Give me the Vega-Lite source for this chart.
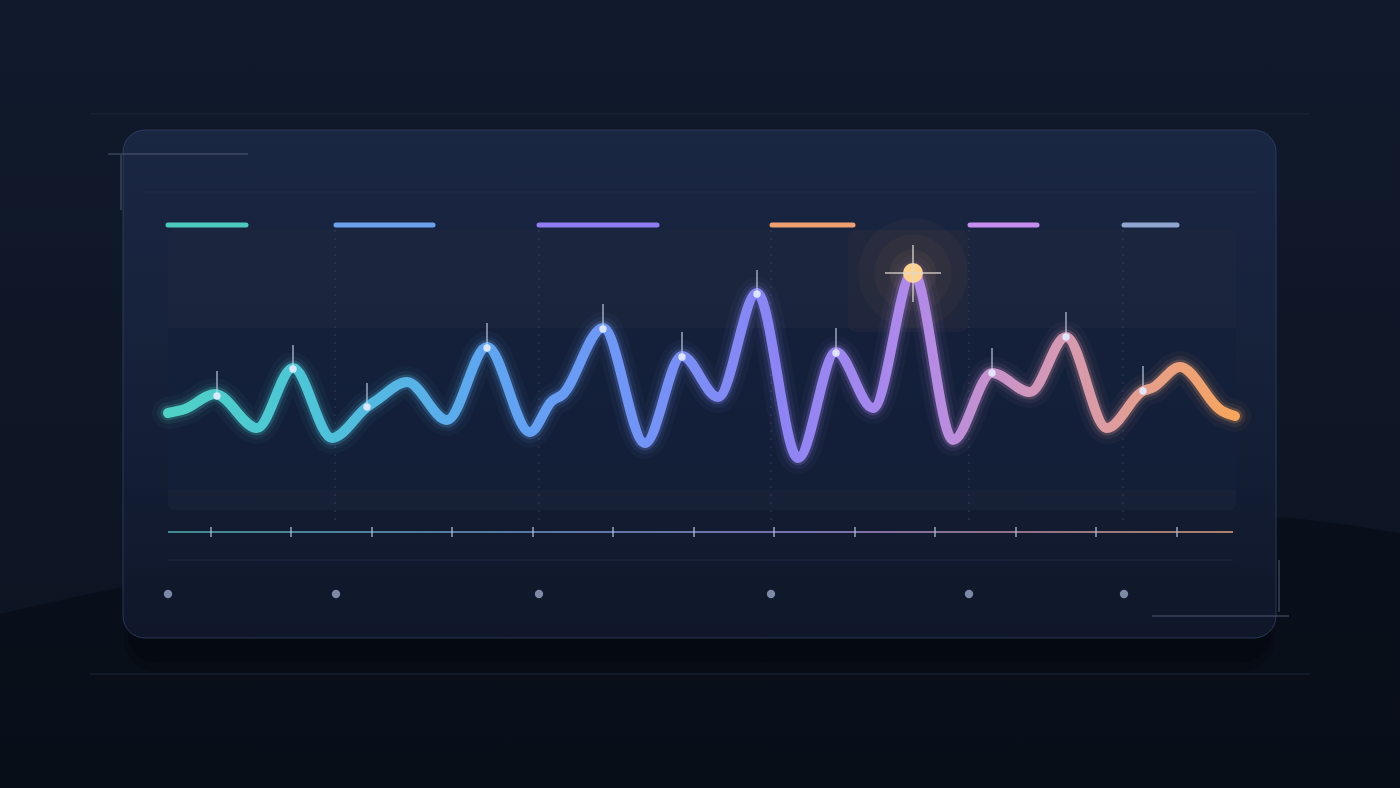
{
  "$schema": "https://vega.github.io/schema/vega-lite/v6.json",
  "width": 1400,
  "height": 788,
  "autosize": {"type": "fit", "contains": "padding"},
  "padding": 0,
  "background": "#0e1524",
  "config": {"view": {"stroke": null}},
  "datasets": {
    "wave": [
      {"x": 168, "y": 413}, {"x": 185, "y": 409}, {"x": 215, "y": 394}, {"x": 257, "y": 428},
      {"x": 293, "y": 368}, {"x": 332, "y": 438}, {"x": 367, "y": 407}, {"x": 377, "y": 400},
      {"x": 407, "y": 382}, {"x": 447, "y": 420}, {"x": 487, "y": 347}, {"x": 530, "y": 432},
      {"x": 552, "y": 401}, {"x": 562, "y": 395}, {"x": 603, "y": 328}, {"x": 645, "y": 443},
      {"x": 682, "y": 356}, {"x": 718, "y": 397}, {"x": 757, "y": 293}, {"x": 798, "y": 458},
      {"x": 836, "y": 352}, {"x": 873, "y": 408}, {"x": 913, "y": 272}, {"x": 953, "y": 440},
      {"x": 992, "y": 373}, {"x": 1030, "y": 392}, {"x": 1066, "y": 337}, {"x": 1107, "y": 428},
      {"x": 1143, "y": 391}, {"x": 1152, "y": 388}, {"x": 1180, "y": 367}, {"x": 1222, "y": 411},
      {"x": 1235, "y": 416}
    ],
    "markers": [
      {"x": 217, "y": 396, "yt": 371}, {"x": 293, "y": 369, "yt": 345}, {"x": 367, "y": 407, "yt": 383},
      {"x": 487, "y": 348, "yt": 323}, {"x": 603, "y": 329, "yt": 304}, {"x": 682, "y": 357, "yt": 332},
      {"x": 757, "y": 294, "yt": 270}, {"x": 836, "y": 353, "yt": 328}, {"x": 992, "y": 373, "yt": 348},
      {"x": 1066, "y": 337, "yt": 312}, {"x": 1143, "y": 391, "yt": 366}
    ],
    "peak": [{"x": 913, "y": 273}],
    "hill": [
      {"x": 0, "y": 614}, {"x": 150, "y": 582}, {"x": 400, "y": 552}, {"x": 700, "y": 530},
      {"x": 1000, "y": 517}, {"x": 1200, "y": 514}, {"x": 1300, "y": 519}, {"x": 1400, "y": 533}
    ],
    "segments": [
      {"seg": "a", "x": 168, "x2": 246, "y": 225},
      {"seg": "b", "x": 336, "x2": 433, "y": 225},
      {"seg": "c", "x": 539, "x2": 657, "y": 225},
      {"seg": "d", "x": 772, "x2": 853, "y": 225},
      {"seg": "e", "x": 970, "x2": 1037, "y": 225},
      {"seg": "f", "x": 1124, "x2": 1177, "y": 225}
    ],
    "columns": [
      {"x": 335, "y": 230, "y2": 520}, {"x": 539, "y": 230, "y2": 520}, {"x": 771, "y": 230, "y2": 520},
      {"x": 969, "y": 230, "y2": 520}, {"x": 1123, "y": 230, "y2": 520}
    ],
    "ticks": [
      {"x": 211}, {"x": 291}, {"x": 372}, {"x": 452}, {"x": 533}, {"x": 613}, {"x": 694},
      {"x": 774}, {"x": 855}, {"x": 935}, {"x": 1016}, {"x": 1096}, {"x": 1177}
    ],
    "dots": [
      {"x": 168, "y": 594}, {"x": 336, "y": 594}, {"x": 539, "y": 594},
      {"x": 771, "y": 594}, {"x": 969, "y": 594}, {"x": 1124, "y": 594}
    ]
  },
  "layer": [
    {
      "data": {"values": [{"x": 0, "x2": 1400, "y": 0, "y2": 788}]},
      "mark": {"type": "rect", "fill": {"gradient": "linear", "x1": 0, "y1": 0, "x2": 0, "y2": 1, "stops": [{"offset": 0, "color": "#111a2c"}, {"offset": 0.6, "color": "#0e1625"}, {"offset": 1, "color": "#0c1220"}]}},
      "encoding": {
        "x": {"field": "x", "type": "quantitative", "scale": {"domain": [0, 1400], "nice": false, "zero": false}, "axis": null},
        "x2": {"field": "x2"},
        "y": {"field": "y", "type": "quantitative", "scale": {"domain": [0, 788], "reverse": true, "nice": false, "zero": false}, "axis": null},
        "y2": {"field": "y2"}
      }
    },
    {
      "data": {"name": "hill"},
      "mark": {"type": "area", "fill": "#070b14", "opacity": 0.6, "interpolate": "monotone"},
      "encoding": {
        "x": {"field": "x", "type": "quantitative", "axis": null},
        "y": {"field": "y", "type": "quantitative", "axis": null},
        "y2": {"datum": 788}
      }
    },
    {
      "data": {"values": [{"x": 90, "x2": 1310, "y": 114}, {"x": 90, "x2": 1310, "y": 674}]},
      "mark": {"type": "rule", "stroke": "#1d2637", "strokeWidth": 1},
      "encoding": {
        "x": {"field": "x", "type": "quantitative", "axis": null},
        "x2": {"field": "x2"},
        "y": {"field": "y", "type": "quantitative", "axis": null}
      }
    },
    {
      "data": {"values": [{"x": 124, "x2": 1275, "y": 140, "y2": 672}]},
      "mark": {"type": "rect", "fill": "#04070d", "opacity": 0.3, "cornerRadius": 34},
      "encoding": {
        "x": {"field": "x", "type": "quantitative", "axis": null},
        "x2": {"field": "x2"},
        "y": {"field": "y", "type": "quantitative", "axis": null},
        "y2": {"field": "y2"}
      }
    },
    {
      "data": {"values": [{"x": 128, "x2": 1271, "y": 140, "y2": 662}]},
      "mark": {"type": "rect", "fill": "#04070d", "opacity": 0.45, "cornerRadius": 28},
      "encoding": {
        "x": {"field": "x", "type": "quantitative", "axis": null},
        "x2": {"field": "x2"},
        "y": {"field": "y", "type": "quantitative", "axis": null},
        "y2": {"field": "y2"}
      }
    },
    {
      "data": {"values": [{"x": 123, "x2": 1276, "y": 130, "y2": 638}]},
      "mark": {"type": "rect", "cornerRadius": 22, "stroke": "#34456b", "strokeWidth": 1, "strokeOpacity": 0.7,
        "fill": {"gradient": "linear", "x1": 0, "y1": 0, "x2": 0, "y2": 1, "stops": [{"offset": 0, "color": "#1a2743"}, {"offset": 0.45, "color": "#16213a"}, {"offset": 1, "color": "#0f1729"}]}},
      "encoding": {
        "x": {"field": "x", "type": "quantitative", "axis": null},
        "x2": {"field": "x2"},
        "y": {"field": "y", "type": "quantitative", "axis": null},
        "y2": {"field": "y2"}
      }
    },
    {
      "data": {"values": [{"x": 145, "x2": 1255, "y": 192}, {"x": 168, "x2": 1233, "y": 560}]},
      "mark": {"type": "rule", "stroke": "#26324d", "strokeWidth": 1, "opacity": 0.6},
      "encoding": {
        "x": {"field": "x", "type": "quantitative", "axis": null},
        "x2": {"field": "x2"},
        "y": {"field": "y", "type": "quantitative", "axis": null}
      }
    },
    {
      "data": {"values": [{"x": 168, "x2": 1236, "y": 230, "y2": 510}]},
      "mark": {"type": "rect", "fill": "#202a3e", "opacity": 0.4, "cornerRadius": 6},
      "encoding": {
        "x": {"field": "x", "type": "quantitative", "axis": null},
        "x2": {"field": "x2"},
        "y": {"field": "y", "type": "quantitative", "axis": null},
        "y2": {"field": "y2"}
      }
    },
    {
      "data": {"values": [{"x": 168, "x2": 1236, "y": 328, "y2": 490}]},
      "mark": {"type": "rect", "fill": "#0e1c37", "opacity": 0.5},
      "encoding": {
        "x": {"field": "x", "type": "quantitative", "axis": null},
        "x2": {"field": "x2"},
        "y": {"field": "y", "type": "quantitative", "axis": null},
        "y2": {"field": "y2"}
      }
    },
    {
      "data": {"values": [{"x": 848, "x2": 968, "y": 230, "y2": 332}]},
      "mark": {"type": "rect", "fill": "#3d3240", "opacity": 0.2, "cornerRadius": 8},
      "encoding": {
        "x": {"field": "x", "type": "quantitative", "axis": null},
        "x2": {"field": "x2"},
        "y": {"field": "y", "type": "quantitative", "axis": null},
        "y2": {"field": "y2"}
      }
    },
    {
      "data": {"name": "columns"},
      "mark": {"type": "rule", "stroke": "#3e4c6c", "strokeWidth": 1, "strokeDash": [2, 6], "opacity": 0.75},
      "encoding": {
        "x": {"field": "x", "type": "quantitative", "axis": null},
        "y": {"field": "y", "type": "quantitative", "axis": null},
        "y2": {"field": "y2"}
      }
    },
    {
      "data": {"name": "segments"},
      "mark": {"type": "rule", "strokeWidth": 5, "strokeCap": "round"},
      "encoding": {
        "x": {"field": "x", "type": "quantitative", "axis": null},
        "x2": {"field": "x2"},
        "y": {"field": "y", "type": "quantitative", "axis": null},
        "color": {"field": "seg", "type": "nominal", "legend": null,
          "scale": {"domain": ["a", "b", "c", "d", "e", "f"], "range": ["#4ccabd", "#6aa2ee", "#8f7cf2", "#f0a070", "#c68cf0", "#8ea6d0"]}}
      }
    },
    {
      "data": {"name": "peak"},
      "mark": {"type": "point", "filled": true, "fill": "#f6a55a", "opacity": 0.035, "size": 12000},
      "encoding": {
        "x": {"field": "x", "type": "quantitative", "axis": null},
        "y": {"field": "y", "type": "quantitative", "axis": null}
      }
    },
    {
      "data": {"name": "peak"},
      "mark": {"type": "point", "filled": true, "fill": "#f6a55a", "opacity": 0.04, "size": 6000},
      "encoding": {
        "x": {"field": "x", "type": "quantitative", "axis": null},
        "y": {"field": "y", "type": "quantitative", "axis": null}
      }
    },
    {
      "data": {"name": "peak"},
      "mark": {"type": "point", "filled": true, "fill": "#f6a55a", "opacity": 0.06, "size": 2200},
      "encoding": {
        "x": {"field": "x", "type": "quantitative", "axis": null},
        "y": {"field": "y", "type": "quantitative", "axis": null}
      }
    },
    {
      "data": {"name": "wave"},
      "mark": {"type": "line", "interpolate": "monotone", "strokeWidth": 32, "opacity": 0.04, "strokeCap": "round",
        "stroke": {"gradient": "linear", "x1": 0, "y1": 0, "x2": 1, "y2": 0, "stops": [{"offset": 0, "color": "#4fd1c5"}, {"offset": 0.12, "color": "#4cc7d6"}, {"offset": 0.3, "color": "#5ea6f2"}, {"offset": 0.45, "color": "#7393f7"}, {"offset": 0.57, "color": "#8c84f5"}, {"offset": 0.7, "color": "#b189ea"}, {"offset": 0.8, "color": "#cf96c0"}, {"offset": 0.88, "color": "#dd9ca0"}, {"offset": 1, "color": "#f7a55c"}]}},
      "encoding": {
        "x": {"field": "x", "type": "quantitative", "axis": null},
        "y": {"field": "y", "type": "quantitative", "axis": null}
      }
    },
    {
      "data": {"name": "wave"},
      "mark": {"type": "line", "interpolate": "monotone", "strokeWidth": 22, "opacity": 0.08, "strokeCap": "round",
        "stroke": {"gradient": "linear", "x1": 0, "y1": 0, "x2": 1, "y2": 0, "stops": [{"offset": 0, "color": "#4fd1c5"}, {"offset": 0.12, "color": "#4cc7d6"}, {"offset": 0.3, "color": "#5ea6f2"}, {"offset": 0.45, "color": "#7393f7"}, {"offset": 0.57, "color": "#8c84f5"}, {"offset": 0.7, "color": "#b189ea"}, {"offset": 0.8, "color": "#cf96c0"}, {"offset": 0.88, "color": "#dd9ca0"}, {"offset": 1, "color": "#f7a55c"}]}},
      "encoding": {
        "x": {"field": "x", "type": "quantitative", "axis": null},
        "y": {"field": "y", "type": "quantitative", "axis": null}
      }
    },
    {
      "data": {"name": "wave"},
      "mark": {"type": "line", "interpolate": "monotone", "strokeWidth": 15, "opacity": 0.2, "strokeCap": "round",
        "stroke": {"gradient": "linear", "x1": 0, "y1": 0, "x2": 1, "y2": 0, "stops": [{"offset": 0, "color": "#4fd1c5"}, {"offset": 0.12, "color": "#4cc7d6"}, {"offset": 0.3, "color": "#5ea6f2"}, {"offset": 0.45, "color": "#7393f7"}, {"offset": 0.57, "color": "#8c84f5"}, {"offset": 0.7, "color": "#b189ea"}, {"offset": 0.8, "color": "#cf96c0"}, {"offset": 0.88, "color": "#dd9ca0"}, {"offset": 1, "color": "#f7a55c"}]}},
      "encoding": {
        "x": {"field": "x", "type": "quantitative", "axis": null},
        "y": {"field": "y", "type": "quantitative", "axis": null}
      }
    },
    {
      "data": {"name": "wave"},
      "mark": {"type": "line", "interpolate": "monotone", "strokeWidth": 10, "opacity": 1, "strokeCap": "round",
        "stroke": {"gradient": "linear", "x1": 0, "y1": 0, "x2": 1, "y2": 0, "stops": [{"offset": 0, "color": "#4fd1c5"}, {"offset": 0.12, "color": "#4cc7d6"}, {"offset": 0.3, "color": "#5ea6f2"}, {"offset": 0.45, "color": "#7393f7"}, {"offset": 0.57, "color": "#8c84f5"}, {"offset": 0.7, "color": "#b189ea"}, {"offset": 0.8, "color": "#cf96c0"}, {"offset": 0.88, "color": "#dd9ca0"}, {"offset": 1, "color": "#f7a55c"}]}},
      "encoding": {
        "x": {"field": "x", "type": "quantitative", "axis": null},
        "y": {"field": "y", "type": "quantitative", "axis": null}
      }
    },
    {
      "data": {"name": "markers"},
      "mark": {"type": "rule", "stroke": "#c9d2e4", "strokeWidth": 1.5, "opacity": 0.75},
      "encoding": {
        "x": {"field": "x", "type": "quantitative", "axis": null},
        "y": {"field": "yt", "type": "quantitative", "axis": null},
        "y2": {"field": "y"}
      }
    },
    {
      "data": {"name": "markers"},
      "mark": {"type": "point", "filled": true, "fill": "#e2e9ff", "opacity": 0.95, "size": 55},
      "encoding": {
        "x": {"field": "x", "type": "quantitative", "axis": null},
        "y": {"field": "y", "type": "quantitative", "axis": null}
      }
    },
    {
      "data": {"name": "peak"},
      "mark": {"type": "point", "filled": true, "fill": "#ffd28e", "opacity": 1, "size": 400},
      "encoding": {
        "x": {"field": "x", "type": "quantitative", "axis": null},
        "y": {"field": "y", "type": "quantitative", "axis": null}
      }
    },
    {
      "data": {"values": [{"x": 885, "x2": 941, "y": 273}]},
      "mark": {"type": "rule", "stroke": "#ddd8d0", "strokeWidth": 1.5, "opacity": 0.85},
      "encoding": {
        "x": {"field": "x", "type": "quantitative", "axis": null},
        "x2": {"field": "x2"},
        "y": {"field": "y", "type": "quantitative", "axis": null}
      }
    },
    {
      "data": {"values": [{"x": 913, "y": 245, "y2": 302}]},
      "mark": {"type": "rule", "stroke": "#ddd8d0", "strokeWidth": 1.5, "opacity": 0.85},
      "encoding": {
        "x": {"field": "x", "type": "quantitative", "axis": null},
        "y": {"field": "y", "type": "quantitative", "axis": null},
        "y2": {"field": "y2"}
      }
    },
    {
      "data": {"values": [{"x": 168, "x2": 1233, "y": 531, "y2": 533}]},
      "mark": {"type": "rect", "opacity": 0.85,
        "fill": {"gradient": "linear", "x1": 0, "y1": 0, "x2": 1, "y2": 0, "stops": [{"offset": 0, "color": "#4a9ea2"}, {"offset": 0.35, "color": "#6688b8"}, {"offset": 0.6, "color": "#8a80c4"}, {"offset": 0.8, "color": "#a88098"}, {"offset": 1, "color": "#c89474"}]}},
      "encoding": {
        "x": {"field": "x", "type": "quantitative", "axis": null},
        "x2": {"field": "x2"},
        "y": {"field": "y", "type": "quantitative", "axis": null},
        "y2": {"field": "y2"}
      }
    },
    {
      "data": {"name": "ticks"},
      "mark": {"type": "rule", "stroke": "#aab6cf", "strokeWidth": 1.5, "opacity": 0.9},
      "encoding": {
        "x": {"field": "x", "type": "quantitative", "axis": null},
        "y": {"datum": 527, "type": "quantitative", "axis": null},
        "y2": {"datum": 537}
      }
    },
    {
      "data": {"name": "dots"},
      "mark": {"type": "point", "filled": true, "fill": "#7e89a8", "opacity": 1, "size": 70},
      "encoding": {
        "x": {"field": "x", "type": "quantitative", "axis": null},
        "y": {"field": "y", "type": "quantitative", "axis": null}
      }
    },
    {
      "data": {"values": [
        {"x": 108, "x2": 248, "y": 154, "y2": 154},
        {"x": 121, "x2": 121, "y": 155, "y2": 210},
        {"x": 1152, "x2": 1289, "y": 616, "y2": 616},
        {"x": 1279, "x2": 1279, "y": 560, "y2": 612}
      ]},
      "mark": {"type": "rule", "stroke": "#56617a", "strokeWidth": 1, "opacity": 0.9},
      "encoding": {
        "x": {"field": "x", "type": "quantitative", "axis": null},
        "x2": {"field": "x2"},
        "y": {"field": "y", "type": "quantitative", "axis": null},
        "y2": {"field": "y2"}
      }
    }
  ]
}
